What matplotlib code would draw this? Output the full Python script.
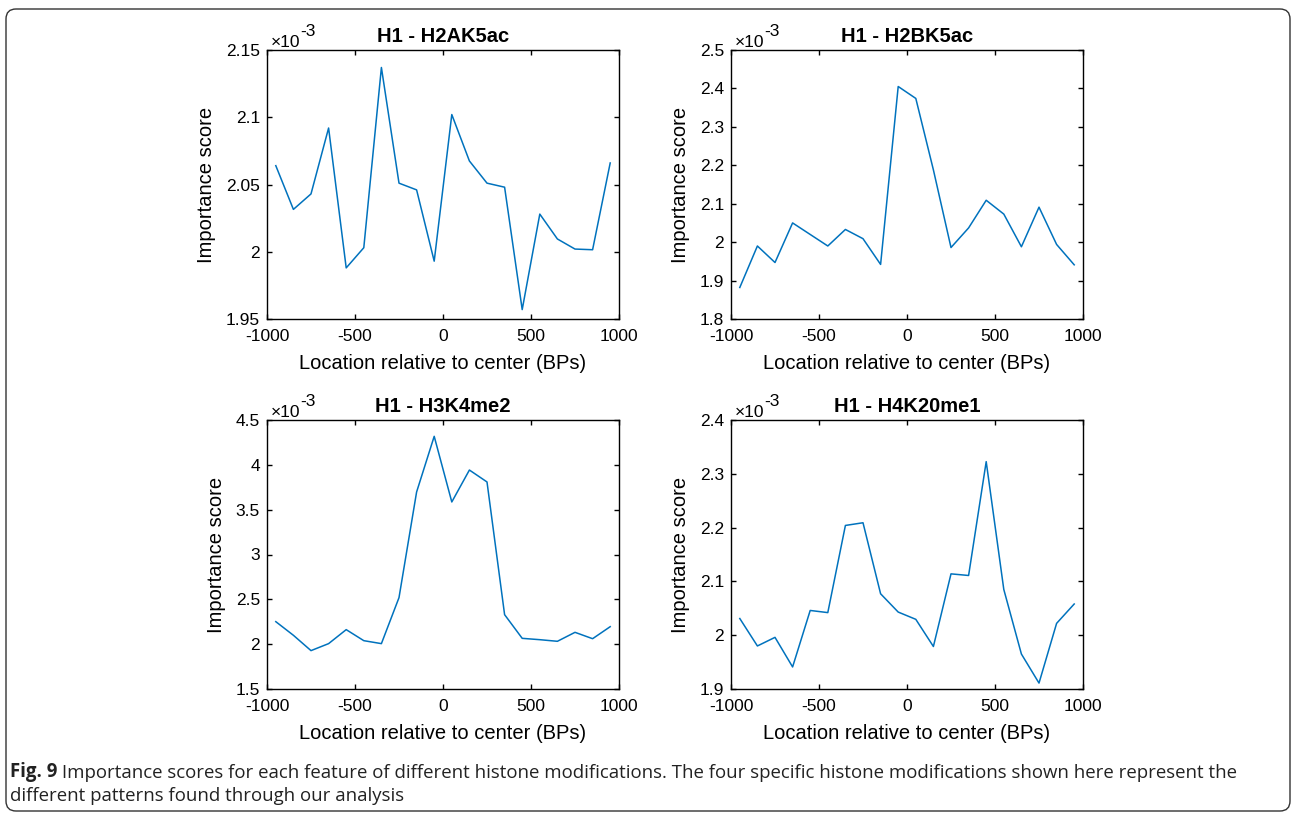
import numpy as np
import matplotlib
matplotlib.use('Agg')
import matplotlib.pyplot as plt
from matplotlib.patches import FancyBboxPatch

plt.rcParams['font.family'] = ['Liberation Sans', 'DejaVu Sans']
plt.rcParams['axes.unicode_minus'] = False

# bin centers (bp relative to center)
location = np.arange(-950, 1000, 100)

# importance scores, in units of 1e-3
h2ak5ac = [2.064, 2.0315, 2.043, 2.092, 1.988, 2.003, 2.137, 2.051, 2.046, 1.993,
           2.102, 2.0675, 2.051, 2.048, 1.957, 2.028, 2.0095, 2.002, 2.0015, 2.066]
h2bk5ac = [1.882, 1.990, 1.947, 2.050, 2.020, 1.990, 2.033, 2.009, 1.942, 2.405,
           2.374, 2.188, 1.986, 2.037, 2.109, 2.073, 1.988, 2.091, 1.994, 1.941]
h3k4me2 = [2.251, 2.099, 1.928, 2.006, 2.162, 2.039, 2.006, 2.519, 3.697, 4.318,
           3.586, 3.942, 3.809, 2.329, 2.065, 2.050, 2.032, 2.132, 2.061, 2.195]
h4k20me1 = [2.031, 1.980, 1.996, 1.941, 2.046, 2.042, 2.204, 2.209, 2.077, 2.043,
            2.0295, 1.979, 2.114, 2.111, 2.3226, 2.085, 1.965, 1.911, 2.022, 2.058]

titles = ['H1 - H2AK5ac', 'H1 - H2BK5ac', 'H1 - H3K4me2', 'H1 - H4K20me1']
series = [h2ak5ac, h2bk5ac, h3k4me2, h4k20me1]
ylims = [(1.95, 2.15), (1.8, 2.5), (1.5, 4.5), (1.9, 2.4)]
ysteps = [0.05, 0.1, 0.5, 0.1]

W, H = 1292, 814
fig = plt.figure(figsize=(W / 100, H / 100), dpi=100)

# frame + caption layer (pixel coordinates)
bg = fig.add_axes([0, 0, 1, 1])
bg.set_xlim(0, W)
bg.set_ylim(H, 0)
bg.axis('off')
bg.add_patch(FancyBboxPatch((6, 9), 1284, 802, boxstyle='round,pad=0,rounding_size=10',
                            fill=False, ec='#333333', lw=1.0))
cap_font = ['Open Sans', 'DejaVu Sans']
t = bg.text(10, 777, 'Fig. 9', fontsize=13.4, fontweight='bold', family=cap_font,
            color='#222222', va='baseline')
bg.annotate(' Importance scores for each feature of different histone modifications. '
            'The four specific histone modifications shown here represent the',
            xy=(1, 0), xycoords=t, va='bottom', fontsize=13.4, family=cap_font,
            color='#222222')
bg.text(10, 801, 'different patterns found through our analysis', fontsize=13.4,
        family=cap_font, color='#222222', va='baseline')

lefts = [267, 731, 267, 731]
tops = [50, 50, 420, 420]
aw, ah = 352, 269

for i in range(4):
    ax = fig.add_axes([lefts[i] / W, 1 - (tops[i] + ah) / H, aw / W, ah / H])
    ax.plot(location, series[i], color='#0072BD', lw=1.1)
    ax.set_xlim(-1000, 1000)
    ax.set_xticks([-1000, -500, 0, 500, 1000])
    lo, hi = ylims[i]
    ax.set_ylim(lo, hi)
    ax.set_yticks(np.arange(lo, hi + ysteps[i] / 2, ysteps[i]))
    ax.yaxis.set_major_formatter(plt.FuncFormatter(lambda v, p: f'{round(v, 3):g}'))
    ax.tick_params(direction='in', top=True, right=True, length=3.5, width=1.0,
                   labelsize=12.5, color='black')
    ax.tick_params(axis='x', pad=7.5)
    ax.tick_params(axis='y', pad=5)
    for s in ax.spines.values():
        s.set_linewidth(1.0)
    ax.set_xlabel('Location relative to center (BPs)', fontsize=14.5, labelpad=7)
    ax.set_ylabel('Importance score', fontsize=14.5, labelpad=7)
    ax.set_title(titles[i], fontsize=14.5, fontweight='bold', pad=6)
    # exponent label in the MATLAB style
    ex = ax.text(0.01, 1.0, '\u00d710', transform=ax.transAxes, fontsize=12.5,
                 ha='left', va='bottom')
    ax.annotate('-3', xy=(1, 0), xycoords=ex, xytext=(0, 8),
                textcoords='offset points', fontsize=12.5, va='bottom')

fig.savefig('out.png', dpi=100)
